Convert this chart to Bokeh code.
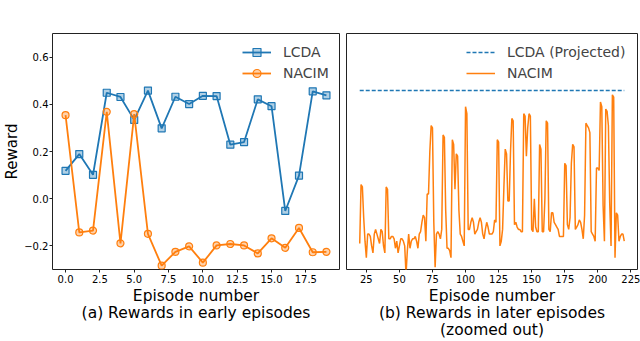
from bokeh.plotting import figure
from bokeh.layouts import row
from bokeh.models import Range1d, FixedTicker
from bokeh.embed import file_html
from bokeh.resources import INLINE

# ---------------- data ----------------
EARLY_EPISODES = list(range(20))
LCDA_EARLY = [0.118, 0.189, 0.101, 0.449, 0.431, 0.334, 0.458, 0.298, 0.432, 0.401,
              0.436, 0.435, 0.229, 0.240, 0.421, 0.392, -0.052, 0.098, 0.455, 0.438]
NACIM_EARLY = [0.354, -0.143, -0.135, 0.368, -0.189, 0.358, -0.149, -0.284, -0.225, -0.202,
               -0.271, -0.198, -0.192, -0.198, -0.232, -0.168, -0.208, -0.124, -0.227, -0.225]

LATE_EPISODES = list(range(20, 221))
NACIM_LATE = [
    -0.19, 0.06, 0.05, -0.08, -0.18, -0.25, -0.15, -0.15, -0.16, -0.20,   # 20-29
    -0.23, -0.15, -0.13, -0.15, -0.17, -0.19, -0.13, -0.14, -0.20, -0.23,  # 30-39
    0.05, 0.04, -0.17, -0.17, -0.16, -0.16, -0.17, -0.21, -0.18, -0.23,    # 40-49
    -0.20, -0.17, -0.17, -0.18, -0.20, -0.32, -0.22, -0.15, -0.21, -0.18,  # 50-59
    -0.17, -0.17, -0.16, -0.18, -0.21, -0.15, -0.14, -0.10, -0.07, -0.08,  # 60-69
    -0.18, 0.02, 0.02, 0.20, 0.31, 0.30, -0.10, -0.29, -0.15, -0.14,       # 70-79
    -0.15, -0.17, -0.13, 0.27, 0.26, -0.05, -0.21, -0.21, -0.22, -0.25,    # 80-89
    0.25, 0.23, 0.04, 0.19, 0.18, -0.05, -0.15, -0.16, -0.18, -0.20,       # 90-99
    0.39, 0.36, -0.13, -0.13, -0.10, -0.08, -0.10, -0.15, -0.14, -0.13,    # 100-109
    -0.10, -0.08, -0.10, -0.15, -0.17, -0.13, -0.10, -0.12, -0.15, -0.15,  # 110-119
    -0.15, -0.14, -0.09, -0.10, 0.25, 0.24, -0.20, -0.18, -0.13, 0.05,     # 120-129
    0.21, 0.19, -0.01, -0.01, 0.20, 0.34, 0.33, -0.11, -0.10, -0.12,       # 130-139
    -0.13, -0.13, -0.14, -0.14, 0.36, 0.35, 0.18, 0.30, 0.36, 0.35,        # 140-149
    -0.13, -0.14, 0.00, -0.12, -0.14, -0.14, 0.23, 0.21, -0.14, -0.14,     # 150-159
    0.00, 0.33, 0.32, -0.13, -0.14, -0.06, -0.06, -0.10, -0.11, -0.12,     # 160-169
    -0.13, -0.16, -0.16, -0.16, -0.16, 0.15, 0.14, -0.11, -0.13, -0.08,    # 170-179
    0.15, 0.23, 0.22, -0.13, -0.12, -0.11, -0.09, -0.10, -0.13, -0.17,     # 180-189
    -0.07, 0.32, 0.31, 0.30, 0.28, -0.14, -0.15, -0.16, -0.18, 0.13,       # 190-199
    0.13, 0.12, 0.41, 0.39, -0.03, -0.18, 0.38, 0.37, 0.31, -0.02,         # 200-209
    -0.20, 0.44, 0.43, -0.25, -0.06, -0.07, -0.18, -0.16, -0.15, -0.15,    # 210-219
    -0.18,                                                                 # 220
]
LCDA_PROJECTED = 0.458

Y_TICKS = [-0.2, 0.0, 0.2, 0.4, 0.6]
Y_TICK_LABELS = ["\u22120.2", "0.0", "0.2", "0.4", "0.6"]
X_TICKS_EARLY = [0.0, 2.5, 5.0, 7.5, 10.0, 12.5, 15.0, 17.5]
X_TICK_LABELS_EARLY = ["0.0", "2.5", "5.0", "7.5", "10.0", "12.5", "15.0", "17.5"]
X_TICKS_LATE = [25, 50, 75, 100, 125, 150, 175, 200, 225]

XLABEL_EARLY = "Episode number\n(a) Rewards in early episodes"
XLABEL_LATE = "Episode number\n(b) Rewards in later episodes\n(zoomed out)"

BLUE = "#1f77b4"
ORANGE = "#ff7f0e"
FONT = "DejaVu Sans"

H = 341
TOP = 33
BOTTOM = 72
FRAME_H = H - TOP - BOTTOM


def style(p):
    p.outline_line_color = "#222222"
    p.outline_line_width = 1
    p.outline_line_alpha = 1
    p.xgrid.visible = False
    p.ygrid.visible = False
    p.background_fill_color = "white"
    p.border_fill_color = "white"
    for ax in p.axis:
        ax.axis_line_color = None
        ax.major_tick_out = 3
        ax.major_tick_in = 0
        ax.major_tick_line_color = "#222222"
        ax.minor_tick_line_color = None
        ax.major_label_text_font = FONT
        ax.major_label_text_font_size = "10px"
        ax.major_label_text_color = "black"
        ax.major_label_standoff = 2
        ax.axis_label_text_font = FONT
        ax.axis_label_text_font_size = "15.5px"
        ax.axis_label_text_font_style = "normal"
        ax.axis_label_text_color = "black"
        ax.axis_label_text_line_height = 0.95
        ax.axis_label_standoff = 1


def style_legend(p, x):
    lg = p.legend[0]
    # tuple location = bottom-left corner of the legend box, from the frame's bottom-left
    lg.location = (x, FRAME_H - 52)
    lg.label_text_font = FONT
    lg.label_text_font_size = "14px"
    lg.border_line_alpha = 0
    lg.background_fill_alpha = 0
    lg.glyph_width = 29
    lg.label_standoff = 12
    lg.spacing = 1
    lg.padding = 2
    lg.margin = 0


# ---------------- left panel ----------------
p1 = figure(width=342, height=H, x_range=Range1d(-0.95, 19.95), y_range=Range1d(-0.3, 0.7),
            output_backend="svg", toolbar_location=None,
            min_border_left=48, min_border_right=3, min_border_top=TOP, min_border_bottom=BOTTOM)
p1.line(EARLY_EPISODES, LCDA_EARLY, line_color=BLUE, line_width=1.8, legend_label="LCDA")
p1.scatter(EARLY_EPISODES, LCDA_EARLY, marker="square", size=7, line_color=BLUE,
           fill_color=BLUE, fill_alpha=0.35, line_width=1.2, legend_label="LCDA")
p1.line(EARLY_EPISODES, NACIM_EARLY, line_color=ORANGE, line_width=1.8, legend_label="NACIM")
p1.scatter(EARLY_EPISODES, NACIM_EARLY, marker="circle", size=7, line_color=ORANGE,
           fill_color=ORANGE, fill_alpha=0.35, line_width=1.2, legend_label="NACIM")
style(p1)
p1.yaxis.ticker = FixedTicker(ticks=Y_TICKS)
p1.yaxis.major_label_overrides = dict(zip(Y_TICKS, Y_TICK_LABELS))
p1.yaxis.major_label_standoff = 1
p1.xaxis.ticker = FixedTicker(ticks=X_TICKS_EARLY)
p1.xaxis.major_label_overrides = dict(zip(X_TICKS_EARLY, X_TICK_LABELS_EARLY))
p1.yaxis.axis_label = "Reward"
p1.yaxis.axis_label_standoff = 0
p1.yaxis.axis_label_text_font_size = "15px"
p1.xaxis.axis_label = XLABEL_EARLY
style_legend(p1, 188)

# ---------------- right panel ----------------
p2 = figure(width=298, height=H, x_range=Range1d(10, 230), y_range=Range1d(-0.3, 0.7),
            output_backend="svg", toolbar_location=None,
            min_border_left=4, min_border_right=3, min_border_top=TOP, min_border_bottom=BOTTOM)
p2.line([LATE_EPISODES[0], LATE_EPISODES[-1]], [LCDA_PROJECTED, LCDA_PROJECTED],
        line_color=BLUE, line_width=1.5, line_dash="4 2", legend_label="LCDA (Projected)")
p2.line(LATE_EPISODES, NACIM_LATE, line_color=ORANGE, line_width=1.5, legend_label="NACIM")
style(p2)
p2.yaxis.visible = False
p2.xaxis.ticker = FixedTicker(ticks=X_TICKS_LATE)
p2.xaxis.axis_label = XLABEL_LATE
style_legend(p2, 118)

layout = row(p1, p2)
open("out.html", "w").write(file_html(layout, INLINE))
